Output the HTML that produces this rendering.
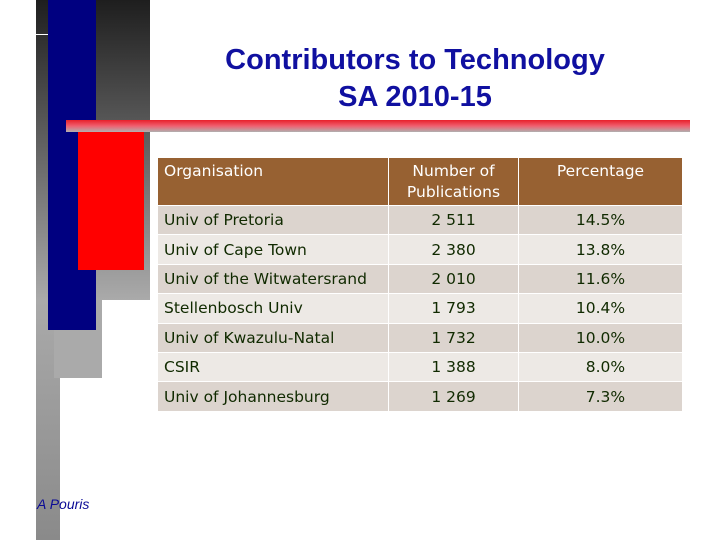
<!DOCTYPE html>
<html><head><meta charset="utf-8"><style>
body{margin:0;width:720px;height:540px;background:#fff;position:relative;overflow:hidden;font-family:"DejaVu Sans","Liberation Sans",sans-serif}
.a{position:absolute}
table{position:absolute;left:157px;top:157px;width:526px;border-collapse:collapse;font-size:15.5px}
td,th{border:1px solid #fff;padding:0 6px;height:28.4px;color:#102a00;font-weight:normal}
th{background:#976132;color:#fff;height:44px;vertical-align:top;padding-top:3px;line-height:21px}
tr.o td{background:#dcd4ce}tr.e td{background:#ede9e5}
.c{text-align:center}
</style></head><body>
<div class="a" style="left:36px;top:0;width:114px;height:300px;background:linear-gradient(#1e1e1e,#aaa)"></div>
<div class="a" style="left:36px;top:300px;width:24px;height:240px;background:linear-gradient(#aaa,#8a8a8a)"></div>
<div class="a" style="left:54px;top:300px;width:48px;height:78px;background:#aaa"></div>
<div class="a" style="left:48px;top:0;width:48px;height:330px;background:#000080"></div>
<div class="a" style="left:36px;top:34px;width:12px;height:1px;background:#fff"></div>
<div class="a" style="left:66px;top:120px;width:624px;height:12px;background:linear-gradient(#e8202a,#f06070 50%,#b0b0b0)"></div>
<div class="a" style="left:78px;top:132px;width:66px;height:138px;background:#ff0000"></div>
<div class="a" style="left:160px;top:42px;width:510px;text-align:center;color:#1010a0;font-family:'Liberation Sans',sans-serif;font-size:29px;line-height:37px;font-weight:bold">Contributors to Technology<br>SA 2010-15</div>
<table>
<tr><th style="text-align:left;width:218px">Organisation</th><th class="c" style="width:117px">Number of Publications</th><th class="c">Percentage</th></tr>
<tr class="o"><td>Univ of Pretoria</td><td class="c">2 511</td><td class="c">14.5%</td></tr>
<tr class="e"><td>Univ of Cape Town</td><td class="c">2 380</td><td class="c">13.8%</td></tr>
<tr class="o"><td>Univ of the Witwatersrand</td><td class="c">2 010</td><td class="c">11.6%</td></tr>
<tr class="e"><td>Stellenbosch Univ</td><td class="c">1 793</td><td class="c">10.4%</td></tr>
<tr class="o"><td>Univ of Kwazulu-Natal</td><td class="c">1 732</td><td class="c">10.0%</td></tr>
<tr class="e"><td>CSIR</td><td class="c">1 388</td><td class="c">&nbsp;&nbsp;8.0%</td></tr>
<tr class="o"><td>Univ of Johannesburg</td><td class="c">1 269</td><td class="c">&nbsp;&nbsp;7.3%</td></tr>
</table>
<div class="a" style="left:37px;top:496px;font-family:'Liberation Sans',sans-serif;font-style:italic;font-size:14px;color:#0b0b96">A Pouris</div>
</body></html>
